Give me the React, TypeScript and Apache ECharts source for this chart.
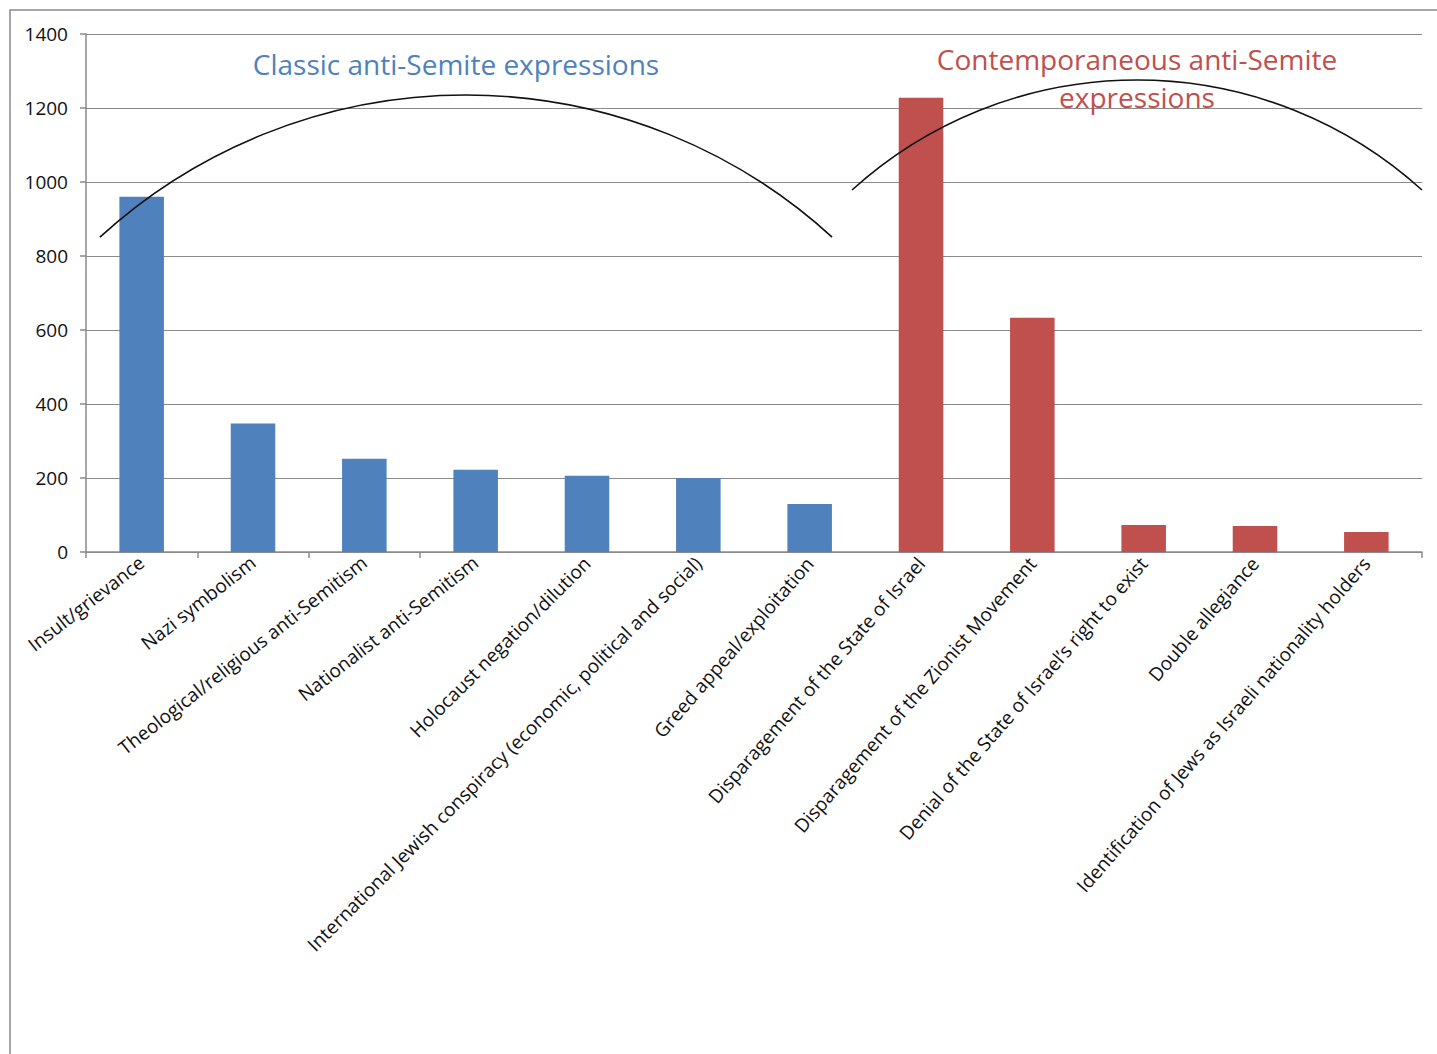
import React, { useEffect, useRef } from "react";
import * as echarts from "echarts";

const categories = [
  "Insult/grievance",
  "Nazi symbolism",
  "Theological/religious anti-Semitism",
  "Nationalist anti-Semitism",
  "Holocaust negation/dilution",
  "International Jewish conspiracy (economic, political and social)",
  "Greed appeal/exploitation",
  "Disparagement of the State of Israel",
  "Disparagement of the Zionist Movement",
  "Denial of the State of Israel’s right to exist",
  "Double allegiance",
  "Identification of Jews as Israeli nationality holders",
];

const classicValues = [960, 347, 252, 222, 206, 200, 130, null, null, null, null, null];
const contemporaryValues = [null, null, null, null, null, null, null, 1228, 633, 73, 70, 54];

const yTicks = { min: 0, max: 1400, interval: 200 };

const classicTitle = "Classic anti-Semite expressions";
const contemporaryTitle = "Contemporaneous anti-Semite\nexpressions";

// label groups (index ranges) with their rotation, as seen in the reference
const labelGroups = [
  { from: 0, to: 3, rotate: 38 },
  { from: 4, to: 5, rotate: 45 },
  { from: 6, to: 11, rotate: 49 },
];

const FONT = "'Open Sans', 'Noto Sans', sans-serif";

export default function App() {
  const ref = useRef<HTMLDivElement>(null);

  useEffect(() => {
    document.body.style.margin = "0";
    if (!ref.current) return;
    const chart = echarts.init(ref.current, null, { renderer: "svg" });

    const arcL = { cx: 466, cy: 637.7, r: 542.7, a: 0.8305 };
    const arcR = { cx: 1137, cy: 504.2, r: 424.2, a: 0.8341 };

    const xAxes = labelGroups.map((g, i) => ({
      type: "category",
      data: categories,
      position: "bottom",
      boundaryGap: true,
      axisLine: { show: i === 0, lineStyle: { color: "#8a8a8a", width: 1.5 } },
      axisTick: { show: i === 0, length: 6, lineStyle: { color: "#8a8a8a", width: 1.5 } },
      axisLabel: {
        interval: (idx: number) => idx >= g.from && idx <= g.to,
        rotate: g.rotate,
        margin: 8,
        color: "#111",
        fontSize: 19,
        fontFamily: FONT,
      },
      splitLine: { show: false },
    }));

    chart.setOption({
      animation: false,
      backgroundColor: "#fff",
      textStyle: { fontFamily: FONT },
      grid: { left: 86, right: 15, top: 34, bottom: 502 },
      xAxis: xAxes,
      yAxis: {
        type: "value",
        min: yTicks.min,
        max: yTicks.max,
        interval: yTicks.interval,
        axisLine: { show: true, lineStyle: { color: "#8a8a8a", width: 1.5 } },
        axisTick: { show: true, length: 6, lineStyle: { color: "#8a8a8a", width: 1.5 } },
        axisLabel: {
          color: "#111",
          fontSize: 19,
          margin: 18,
          fontFamily: FONT,
          formatter: (v: number) => String(v),
        },
        splitLine: { show: true, lineStyle: { color: "#8a8a8a", width: 1.2 } },
      },
      series: [
        {
          type: "bar",
          name: "Classic",
          xAxisIndex: 0,
          data: classicValues,
          barWidth: "40%",
          barGap: "-100%",
          itemStyle: { color: "#4F81BD" },
        },
        {
          type: "bar",
          name: "Contemporaneous",
          xAxisIndex: 0,
          data: contemporaryValues,
          barWidth: "40%",
          barGap: "-100%",
          itemStyle: { color: "#C0504D" },
        },
      ],
      graphic: [
        {
          type: "polyline",
          shape: { points: [[10, 1054], [10, 10], [1437, 10]] },
          style: { stroke: "#8a8a8a", lineWidth: 1.5, fill: null },
          silent: true,
        },
        {
          type: "arc",
          shape: {
            cx: arcL.cx,
            cy: arcL.cy,
            r: arcL.r,
            startAngle: -Math.PI + arcL.a,
            endAngle: -arcL.a,
            clockwise: true,
          },
          style: { stroke: "#111", lineWidth: 1.6, fill: null },
          silent: true,
          z: 10,
        },
        {
          type: "arc",
          shape: {
            cx: arcR.cx,
            cy: arcR.cy,
            r: arcR.r,
            startAngle: -Math.PI + arcR.a,
            endAngle: -arcR.a,
            clockwise: true,
          },
          style: { stroke: "#111", lineWidth: 1.6, fill: null },
          silent: true,
          z: 10,
        },
        {
          type: "text",
          x: 456,
          y: 64,
          style: {
            text: classicTitle,
            fill: "#4F81BD",
            font: `28px ${FONT}`,
            align: "center",
            verticalAlign: "middle",
          },
          z: 11,
        },
        {
          type: "text",
          x: 1137,
          y: 78,
          style: {
            text: contemporaryTitle,
            fill: "#C0504D",
            font: `28px ${FONT}`,
            align: "center",
            verticalAlign: "middle",
            lineHeight: 38,
          },
          z: 11,
        },
      ],
    });

    return () => chart.dispose();
  }, []);

  return <div ref={ref} style={{ width: 1437, height: 1054 }} />;
}
